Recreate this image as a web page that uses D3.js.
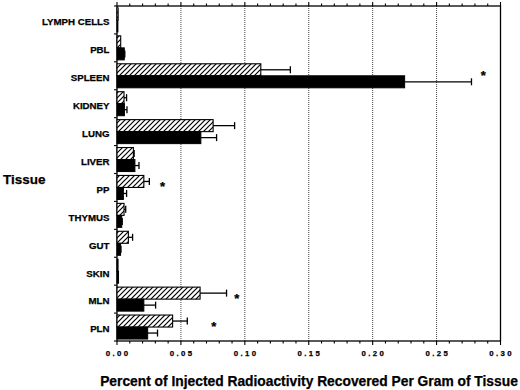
<!DOCTYPE html>
<html><head><meta charset="utf-8">
<script src="https://cdn.jsdelivr.net/npm/d3@7"></script>
<style>
html,body{margin:0;padding:0;background:#fff;}
svg{display:block;font-family:"Liberation Sans",Arial,Helvetica,sans-serif;font-weight:bold;}
text{stroke:#000;stroke-width:0.25px;}
</style></head>
<body>
<svg id="chart" width="520" height="390"></svg>
<script>
// ---- data ----
const tissues = ["LYMPH CELLS","PBL","SPLEEN","KIDNEY","LUNG","LIVER","PP","THYMUS","GUT","SKIN","MLN","PLN"];
const hatchedValues = [0.0009,0.0029,0.1125,0.0055,0.0752,0.0128,0.0210,0.0055,0.0089,0.0008,0.0650,0.0435];
const hatchedErrors = [0,0,0.0231,0.0020,0.0168,0.0006,0.0043,0.0013,0.0033,0,0.0207,0.0115];
const blackValues   = [0.0007,0.0057,0.2250,0.0058,0.0656,0.0140,0.0050,0.0037,0.0028,0.0012,0.0210,0.0240];
const blackErrors   = [0,0.0004,0.0523,0.0020,0.0123,0.0032,0.0025,0.0004,0.0003,0,0.0092,0.0077];
const starTissues   = ["SPLEEN","PP","MLN","PLN"];
const starX         = [0.2865,0.0356,0.0937,0.0758];
const xTickValues   = [0,0.05,0.10,0.15,0.20,0.25,0.30];
const xTickLabels   = ["0.00","0.05","0.10","0.15","0.20","0.25","0.30"];
const yTitle = "Tissue";
const xTitle = "Percent of Injected Radioactivity Recovered Per Gram of Tissue";

// ---- layout ----
const L = 117, R = 500.5, T = 6, B = 341;
const svg = d3.select("#chart");

const x = d3.scaleLinear().domain([0, 0.30]).range([L, R]);
const y = d3.scaleBand().domain(tissues).range([T, B]).paddingInner(0.14).paddingOuter(0.07);
const sub = d3.scaleBand().domain(["h","b"]).range([0, y.bandwidth()]).padding(0);

// hatch pattern
const defs = svg.append("defs");
const pat = defs.append("pattern").attr("id","hatch").attr("patternUnits","userSpaceOnUse")
  .attr("width",5).attr("height",5);
pat.append("rect").attr("width",5).attr("height",5).attr("fill","#fff");
pat.append("path").attr("d","M-1,6 L6,-1 M-2,2 L2,-2 M3,7 L7,3")
  .attr("stroke","#000").attr("stroke-width",1.2);

// grid lines (dotted)
svg.append("g").selectAll("line").data(xTickValues.slice(1,-1)).join("line")
  .attr("x1",d=>x(d)).attr("x2",d=>x(d)).attr("y1",T).attr("y2",B)
  .attr("stroke","#444").attr("stroke-width",1).attr("stroke-dasharray","1,1");

// frame
svg.append("rect").attr("x",L).attr("y",T).attr("width",R-L).attr("height",B-T)
  .attr("fill","none").attr("stroke","#000").attr("stroke-width",1.3);

// minor ticks
const minor = d3.range(0, 0.3001, 0.01);
const tg = svg.append("g").attr("stroke","#000").attr("stroke-width",1.1);
tg.selectAll("line.tt").data(minor).join("line").attr("class","tt")
  .attr("x1",d=>x(d)).attr("x2",d=>x(d)).attr("y1",(d,i)=>T-(i%5===0?4:2.5)).attr("y2",T);
tg.selectAll("line.bt").data(minor).join("line").attr("class","bt")
  .attr("x1",d=>x(d)).attr("x2",d=>x(d)).attr("y1",B).attr("y2",(d,i)=>B+(i%5===0?4:2.5));

// left axis ticks at band boundaries
const boundaries = d3.range(0, tissues.length + 1).map(i => T + i * (B - T) / tissues.length);
tg.selectAll("line.lt").data(boundaries).join("line").attr("class","lt")
  .attr("x1",L-3).attr("x2",L).attr("y1",d=>d).attr("y2",d=>d);

// bottom tick labels
svg.append("g").selectAll("text").data(xTickValues).join("text")
  .attr("x",d=>x(d)+1.2).attr("y",356).attr("text-anchor","middle")
  .attr("font-size",7.8).attr("letter-spacing",2.4).text((d,i)=>xTickLabels[i]);

// category labels
svg.append("g").selectAll("text").data(tissues).join("text")
  .attr("x",109.5).attr("y",d=>y(d)+y.bandwidth()/2+5.3).attr("text-anchor","end")
  .attr("font-size",9.7).text(d=>d);

// bars
const rows = tissues.map((t,i)=>({t, hv:hatchedValues[i], he:hatchedErrors[i], bv:blackValues[i], be:blackErrors[i]}));
const bars = svg.append("g");
bars.selectAll("rect.h").data(rows).join("rect").attr("class","h")
  .attr("x",x(0)).attr("y",d=>y(d.t)+sub("h")).attr("width",d=>x(d.hv)-x(0)).attr("height",sub.bandwidth())
  .attr("fill","url(#hatch)").attr("stroke","#000").attr("stroke-width",1.1);
bars.selectAll("rect.b").data(rows).join("rect").attr("class","b")
  .attr("x",x(0)).attr("y",d=>y(d.t)+sub("b")).attr("width",d=>x(d.bv)-x(0)).attr("height",sub.bandwidth())
  .attr("fill","#000").attr("stroke","#000").attr("stroke-width",1);

// error bars
function errBars(key, v, e){
  const g = svg.append("g").attr("stroke","#000").attr("stroke-width",1.3);
  const data = rows.filter(d=>d[e]>0);
  const cy = d => y(d.t)+sub(key)+sub.bandwidth()/2;
  g.selectAll("line.s").data(data).join("line").attr("class","s")
    .attr("x1",d=>x(d[v])).attr("x2",d=>x(d[v]+d[e])).attr("y1",cy).attr("y2",cy);
  g.selectAll("line.c").data(data).join("line").attr("class","c")
    .attr("x1",d=>x(d[v]+d[e])).attr("x2",d=>x(d[v]+d[e])).attr("y1",d=>cy(d)-3.5).attr("y2",d=>cy(d)+3.5);
}
errBars("h","hv","he");
errBars("b","bv","be");

// significance stars
svg.append("g").selectAll("text").data(starTissues).join("text")
  .attr("x",(d,i)=>x(starX[i])).attr("y",d=>y(d)+y.bandwidth()/2+4)
  .attr("text-anchor","middle").attr("font-size",13).text("*");

// axis titles
svg.append("text").attr("x",3).attr("y",184).attr("font-size",13.5).text(yTitle);
svg.append("text").attr("x",309).attr("y",386).attr("text-anchor","middle").attr("font-size",13.8).text(xTitle);
</script>
</body></html>
